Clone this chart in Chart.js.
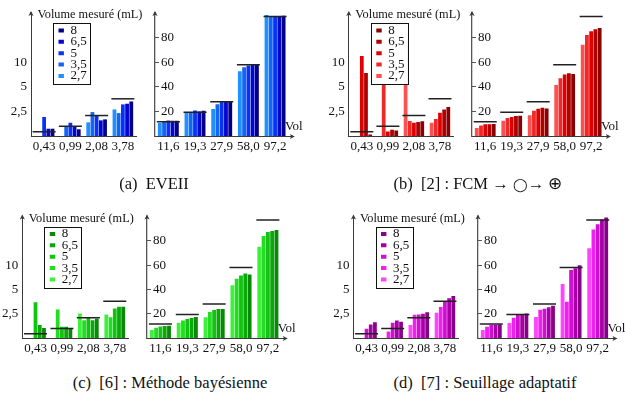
<!DOCTYPE html>
<html>
<head>
<meta charset="utf-8">
<script src="https://cdn.jsdelivr.net/npm/chart.js@4"></script>
<style>
  body { margin: 0; background: #fff; }
  #fig { position: relative; width: 625px; height: 399px; overflow: hidden; font-family: "Liberation Serif", serif; }
  #fig canvas { position: absolute; }
  .cap { position: absolute; font-size: 16.5px; line-height: 1; white-space: pre; color: #111; transform: translateX(-50%); }
  .cap .op { font-size: 13px; }
</style>
</head>
<body>
<div id="fig"></div>
<script>
// --- data ---
const categories = ['0,43', '0,99', '2,08', '3,78', '11,6', '19,3', '27,9', '58,0', '97,2'];
const trueVolumes = [0.43, 0.99, 2.08, 3.78, 11.6, 19.3, 27.9, 58.0, 97.2];
const seriesNames = ['2,7', '3,5', '5', '6,5', '8'];
const leftTickValues = [2.5, 5, 7.5];
const leftTickLabels = ['2,5', '5', '10'];
const rightTickValues = [20, 40, 60, 80];

// (a) EVEII
const eveii27 = [0, 0, 1.39, 2.70, 10.5, 18.9, 21.9, 52.7, 98.4];
const eveii35 = [0, 0.98, 2.43, 2.33, 12.2, 19.5, 25.9, 55.9, 97.0];
const eveii5  = [1.93, 1.35, 2.03, 3.21, 12.7, 20.8, 27.6, 57.3, 97.0];
const eveii65 = [0.74, 0.98, 1.59, 3.28, 12.4, 20.0, 27.6, 57.8, 97.6];
const eveii8  = [0.74, 0.68, 1.69, 3.51, 12.4, 20.5, 27.6, 58.4, 97.8];

// (b) [2] FCM
const fcm27 = [0, 0, 9.86, 1.35, 6.5, 12.4, 16.8, 41.4, 74.1];
const fcm35 = [0, 8.0, 1.52, 1.72, 8.6, 14.6, 20.5, 47.0, 82.2];
const fcm5  = [8.14, 0.47, 1.35, 2.36, 9.5, 15.4, 22.2, 50.0, 85.1];
const fcm65 = [6.39, 0.64, 1.42, 2.70, 9.5, 16.2, 23.0, 51.1, 86.8];
const fcm8  = [0.14, 0.57, 1.49, 2.94, 9.7, 16.5, 22.4, 50.5, 87.8];

// (c) [6] méthode bayésienne
const bayes27 = [0, 0, 2.52, 2.41, 6.5, 12.5, 17.1, 43.4, 75.1];
const bayes35 = [0, 2.93, 1.83, 2.14, 8.4, 14.4, 21.4, 48.8, 84.0];
const bayes5  = [3.69, 1.17, 2.07, 3.03, 9.5, 15.7, 23.0, 51.5, 87.3];
const bayes65 = [1.34, 1.17, 1.83, 3.21, 9.8, 16.5, 23.8, 53.1, 88.1];
const bayes8  = [1.03, 0.93, 1.97, 3.21, 10.0, 17.3, 23.8, 52.3, 88.9];

// (d) [7] seuillage adaptatif
const seuil27 = [0, 0, 1.35, 2.60, 6.6, 12.3, 17.2, 44.5, 73.8];
const seuil35 = [0, 0.66, 2.40, 3.19, 9.3, 16.7, 23.2, 29.8, 89.3];
const seuil5  = [0.94, 1.56, 2.43, 3.72, 10.9, 18.9, 24.0, 56.0, 93.7];
const seuil65 = [1.39, 1.81, 2.50, 4.10, 10.9, 18.9, 25.4, 57.4, 97.5];
const seuil8  = [1.63, 1.67, 2.64, 4.31, 11.2, 20.2, 26.5, 59.8, 99.2];

// --- layout of the four panels (absolute page pixels) ---
const panels = [
  { series: [eveii27, eveii35, eveii5, eveii65, eveii8],
    colors: ['#1E90FF', '#1464F5', '#0A32F5', '#0505D0', '#00008B'],
    x0: 0, x1: 312, y0: 0, left: 31, mid: 145.2, right: 288.4, top: 13, bottom: 136,
    caption: '(a)  EVEII', capX: 154, capY: 176 },
  { series: [fcm27, fcm35, fcm5, fcm65, fcm8],
    colors: ['#FF5050', '#F02828', '#E00000', '#B00000', '#8B0000'],
    x0: 313, x1: 625, y0: 0, left: 348.8, mid: 462.4, right: 604.4, top: 13, bottom: 136,
    caption: '(b)  [2] : FCM \u2192 <span class="op">\u25EF</span>\u2192 \u2295', capX: 478, capY: 176 },
  { series: [bayes27, bayes35, bayes5, bayes65, bayes8],
    colors: ['#3CF03C', '#22DD22', '#11C411', '#0AA80A', '#088A08'],
    x0: 0, x1: 312, y0: 200, left: 22.3, mid: 137.3, right: 281.3, top: 216.5, bottom: 338,
    caption: '(c)  [6] : M\u00e9thode bay\u00e9sienne', capX: 170, capY: 375 },
  { series: [seuil27, seuil35, seuil5, seuil65, seuil8],
    colors: ['#FF44FF', '#F020F0', '#D010D0', '#A800A8', '#8B008B'],
    x0: 313, x1: 625, y0: 200, left: 353.5, mid: 468, right: 611, top: 216.5, bottom: 338,
    caption: '(d)  [7] : Seuillage adaptatif', capX: 485, capY: 375 }
];

const FONT = '"Liberation Serif", "Times New Roman", serif';
const INK = '#111';
const AXIS = '#3a3a3a';
const H = 162;

function stealth(ctx, x, y, dir) {
  ctx.save();
  ctx.translate(x, y);
  if (dir === 'right') ctx.rotate(Math.PI / 2);
  ctx.beginPath();
  ctx.moveTo(0, 0);
  ctx.lineTo(2.6, 5);
  ctx.lineTo(0, 3.8);
  ctx.lineTo(-2.6, 5);
  ctx.closePath();
  ctx.fillStyle = AXIS;
  ctx.fill();
  ctx.restore();
}

function buildChart(fig, p, side) {
  const isLeft = side === 'L';
  const from = isLeft ? 0 : 4, to = isLeft ? 4 : 9;
  const cLeft = isLeft ? p.x0 : Math.floor(p.mid - 3);
  const cRight = isLeft ? Math.ceil(p.mid + 3) : p.x1;
  const cWidth = cRight - cLeft;

  const canvas = document.createElement('canvas');
  canvas.width = cWidth;
  canvas.height = H;
  canvas.style.left = cLeft + 'px';
  canvas.style.top = p.y0 + 'px';
  fig.appendChild(canvas);

  const datasets = seriesNames.map((name, k) => ({
    label: name,
    data: p.series[k].slice(from, to),
    backgroundColor: p.colors[k],
    borderWidth: 0,
    categoryPercentage: 0.8,
    barPercentage: 0.9,
    order: 1
  }));
  datasets.push({
    type: 'line',
    label: 'réf',
    data: trueVolumes.slice(from, to),
    showLine: false,
    pointStyle: 'line',
    pointRadius: 11.5,
    pointHoverRadius: 11.5,
    borderColor: '#222',
    pointBorderColor: '#222',
    pointBorderWidth: 1.5,
    order: 0
  });

  const tickFont = { family: FONT, size: 13, lineHeight: 1 };
  const yScale = isLeft ? {
    min: 0, max: 12.5, position: 'left',
    grid: { display: false, drawTicks: false },
    border: { display: true, color: AXIS, width: 1 },
    afterBuildTicks: s => { s.ticks = leftTickValues.map(v => ({ value: v })); },
    ticks: { font: tickFont, color: INK, padding: 4, callback: (v, i) => leftTickLabels[i] },
    afterFit: s => { s.width = p.left - cLeft; }
  } : {
    min: 0, max: 100, position: 'left',
    grid: { display: true, drawOnChartArea: false, drawTicks: true, tickLength: -4, color: '#555', lineWidth: 1 },
    border: { display: true, color: '#555', width: 1.3 },
    afterBuildTicks: s => { s.ticks = rightTickValues.map(v => ({ value: v })); },
    ticks: { font: tickFont, color: INK, mirror: true, padding: 6, callback: v => String(v) },
    afterFit: s => { s.width = 0; }
  };

  const deco = {
    id: 'deco' + side,
    afterLayout(chart) {
      if (!isLeft) return;
      const a = chart.chartArea, lg = chart.legend;
      const fx = a.left + 22, fy = a.top + 10;
      lg.left = fx + 5.5;
      lg.top = fy + 2.5;
      lg.right = fx + 37;
      lg.bottom = fy + 61;
      lg.width = lg.right - lg.left;
      lg.height = lg.bottom - lg.top;
      chart.$frame = { x: fx, y: fy, w: 37, h: 61 };
    },
    afterDatasetsDraw(chart) {
      if (!isLeft) return;
      const ctx = chart.ctx, f = chart.$frame;
      ctx.save();
      ctx.fillStyle = '#fff';
      ctx.fillRect(f.x, f.y, f.w, f.h);
      ctx.strokeStyle = INK;
      ctx.lineWidth = 1;
      ctx.strokeRect(Math.round(f.x) + 0.5, Math.round(f.y) + 0.5, f.w, f.h);
      ctx.restore();
      chart.legend.draw();
    },
    afterDraw(chart) {
      const ctx = chart.ctx, a = chart.chartArea;
      ctx.save();
      stealth(ctx, a.left, a.top - 2, 'up');
      ctx.strokeStyle = AXIS;
      ctx.lineWidth = 1;
      ctx.beginPath();
      ctx.moveTo(a.left, a.top);
      ctx.lineTo(a.left, a.top - 1);
      ctx.stroke();
      ctx.fillStyle = INK;
      if (isLeft) {
        ctx.font = '12.3px ' + FONT;
        ctx.textAlign = 'left';
        ctx.textBaseline = 'middle';
        ctx.fillText('Volume mesur\u00e9 (mL)', a.left + 6.5, a.top + 2);
      } else {
        ctx.beginPath();
        ctx.moveTo(a.right, a.bottom + 0.5);
        ctx.lineTo(a.right + 5, a.bottom + 0.5);
        ctx.stroke();
        stealth(ctx, a.right + 6.5, a.bottom + 0.5, 'right');
        ctx.font = '13px ' + FONT;
        ctx.textAlign = 'left';
        ctx.textBaseline = 'middle';
        ctx.fillStyle = INK;
        ctx.fillText('Vol', a.right - 3.5, a.bottom - 9.5);
      }
      ctx.restore();
    }
  };

  return new Chart(canvas, {
    type: 'bar',
    data: { labels: categories.slice(from, to), datasets },
    options: {
      responsive: false,
      animation: false,
      events: [],
      layout: {
        padding: {
          left: isLeft ? 0 : p.mid - cLeft,
          right: isLeft ? cRight - p.mid : cRight - p.right,
          top: p.top - p.y0,
          bottom: 0
        }
      },
      scales: {
        x: {
          type: 'category', offset: true,
          grid: { display: false, drawTicks: false },
          border: { display: true, color: AXIS, width: 1 },
          ticks: { font: tickFont, color: INK, padding: 4, maxRotation: 0, autoSkip: false },
          afterFit: s => { s.height = H - (p.bottom - p.y0); }
        },
        y: yScale
      },
      plugins: {
        legend: {
          display: isLeft,
          position: 'chartArea',
          align: 'start',
          reverse: true,
          labels: {
            boxWidth: 7, boxHeight: 4, padding: -1.6,
            font: { family: FONT, size: 13 }, color: INK,
            filter: item => item.datasetIndex < 5
          }
        },
        title: { display: false },
        tooltip: { enabled: false }
      }
    },
    plugins: [deco]
  });
}

function drawFigure() {
  const fig = document.getElementById('fig');
  panels.forEach(p => {
    buildChart(fig, p, 'L');
    buildChart(fig, p, 'R');
    const cap = document.createElement('div');
    cap.className = 'cap';
    cap.innerHTML = p.caption;
    cap.style.left = p.capX + 'px';
    cap.style.top = p.capY + 'px';
    fig.appendChild(cap);
  });
}

Promise.all([
  document.fonts.load('13px "Liberation Serif"'),
  document.fonts.load('13px "Liberation Serif"', 'é')
]).catch(() => null).then(drawFigure);
</script>
</body>
</html>
